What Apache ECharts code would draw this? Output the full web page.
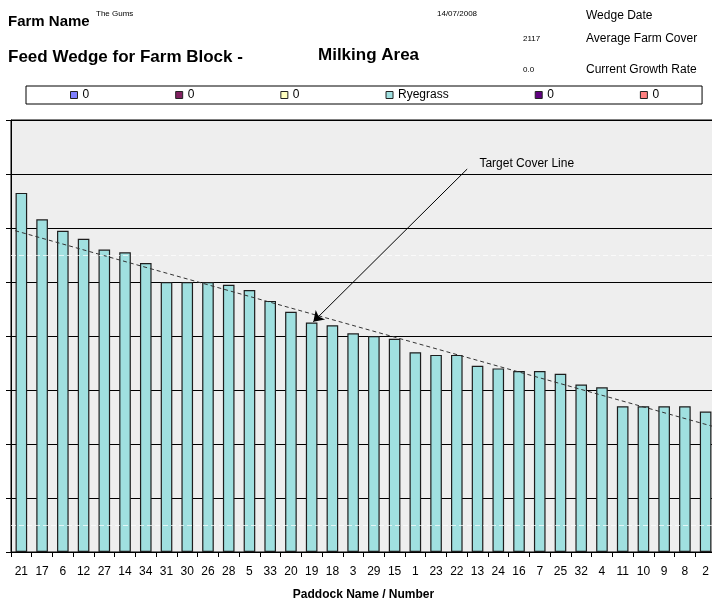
<!DOCTYPE html>
<html>
<head>
<meta charset="utf-8">
<script src="https://cdn.jsdelivr.net/npm/echarts@6/dist/echarts.min.js"></script>
<style>
html,body{margin:0;padding:0;background:#fff;}
#chart{width:712px;height:598px;}
</style>
</head>
<body>
<div id="chart"></div>
<script>
// ---- data ----
const paddocks = ['21','17','6','12','27','14','34','31','30','26','28','5','33','20','19','18','3','29','15','1','23','22','13','24','16','7','25','32','4','11','10','9','8','2'];
const ryegrass = [3325,3080,2975,2900,2800,2775,2675,2500,2500,2500,2475,2425,2325,2225,2125,2100,2025,2000,1975,1850,1825,1825,1725,1700,1675,1675,1650,1550,1525,1350,1350,1350,1350,1300];
const targetLine = [[0.2, 2975], [34, 1155]];
const whiteRefLines = [2750, 250];
const legendKeys = ['s1','s2','s3','ryegrass','s5','s6'];
const legendLabels = ['0','0','0','Ryegrass','0','0'];
const legendColors = ['#8080FF','#802060','#FFFFC0','#A0E0E0','#600080','#FF8080'];
const yMin = 0, yMax = 4000, yStep = 500;
const arrowFrom = [22.0, 3546], arrowTo = [14.58, 2132];
const noteAnchor = [22.59, 3593];

const chart = echarts.init(document.getElementById('chart'), null, {renderer:'canvas'});

const seriesList = legendKeys.map((k, i) => ({
  name: k,
  type: 'bar',
  stack: 'all',
  xAxisIndex: 0,
  yAxisIndex: 0,
  barCategoryGap: '44%',
  data: k === 'ryegrass' ? ryegrass : [],
  itemStyle: {color: legendColors[i], borderColor: '#1e1e1e', borderWidth: 1.2},
  silent: true,
  markLine: k === 'ryegrass' ? {
    silent: true, symbol: ['none','none'], label: {show:false},
    lineStyle: {color:'#ffffff', type:[5,3], width:1, opacity:0.7},
    data: whiteRefLines.map(v => ({yAxis: v}))
  } : undefined
}));

seriesList.push({
  name: 'target',
  type: 'line',
  xAxisIndex: 1,
  yAxisIndex: 0,
  data: targetLine,
  symbol: 'none',
  silent: true,
  z: 3,
  lineStyle: {color:'#333', width:1, type:[4,3]},
  markLine: {
    silent: true,
    symbol: ['none','arrow'],
    symbolSize: 10,
    label: {show:false},
    lineStyle: {color:'#000', width:1, type:'solid'},
    itemStyle: {color:'#000'},
    data: [[{coord: arrowFrom}, {coord: arrowTo}]]
  },
  markPoint: {
    silent: true,
    symbol: 'circle',
    symbolSize: 0,
    label: {show:true, position:'right', distance:0, formatter:'Target Cover Line', color:'#000', fontSize:12, fontFamily:'Arial, Liberation Sans'},
    data: [{coord: noteAnchor}]
  }
});

const txt = (text, x, y, font, align) => ({
  type:'text', x, y, silent:true,
  style:{text, x:0, y:0, font, fill:'#000', verticalAlign:'middle', align: align || 'left'}
});

chart.setOption({
  animation: false,
  backgroundColor: '#ffffff',
  textStyle: {fontFamily: 'Arial, "Liberation Sans", sans-serif'},
  grid: {left: 11, right: -4, top: 120, bottom: 46, show: true, backgroundColor: '#EEEEEE', borderColor: '#000', borderWidth: 1, containLabel: false, outerBoundsMode: 'none'},
  legend: {
    data: legendKeys,
    formatter: n => legendLabels[legendKeys.indexOf(n)],
    left: 26, top: 86,
    padding: [3, 43, 3, 44],
    itemGap: 86,
    itemWidth: 7, itemHeight: 7,
    icon: 'rect',
    itemStyle: {borderColor:'#222', borderWidth:1},
    backgroundColor: '#ffffff',
    borderColor: '#000', borderWidth: 1,
    textStyle: {fontSize: 12, color:'#000', fontFamily:'Arial, "Liberation Sans", sans-serif'},
    selectedMode: false
  },
  xAxis: [{
    type: 'category',
    data: paddocks,
    boundaryGap: true,
    axisLine: {show:true, lineStyle:{color:'#000'}},
    axisTick: {show:true, interval:0, length:5, lineStyle:{color:'#000'}},
    axisLabel: {interval:0, fontSize:12, color:'#000', margin:14},
    splitLine: {show:false},
    name: 'Paddock Name / Number',
    nameLocation: 'middle',
    nameGap: 37,
    nameTextStyle: {fontSize:12, fontWeight:'bold', color:'#000'}
  },{
    type: 'value', min: 0, max: 34, show: false
  }],
  yAxis: [{
    type: 'value', min: yMin, max: yMax, interval: yStep,
    axisLine: {show:true, lineStyle:{color:'#000'}},
    axisTick: {show:true, length:5, lineStyle:{color:'#000'}},
    axisLabel: {show:false},
    splitLine: {show:true, lineStyle:{color:'#000', width:1}}
  }],
  series: seriesList,
  graphic: [
    txt('Farm Name', 8, 22, 'bold 15px Arial, "Liberation Sans"'),
    txt('The Gums', 96, 14, '8px Arial, "Liberation Sans"'),
    txt('14/07/2008', 437, 14, '8px Arial, "Liberation Sans"'),
    txt('Wedge Date', 586, 16, '12px Arial, "Liberation Sans"'),
    txt('2117', 523, 39, '8px Arial, "Liberation Sans"'),
    txt('Average Farm Cover', 586, 39, '12px Arial, "Liberation Sans"'),
    txt('Feed Wedge for Farm Block -', 8, 57, 'bold 17px Arial, "Liberation Sans"'),
    txt('Milking Area', 318, 55, 'bold 17px Arial, "Liberation Sans"'),
    txt('0.0', 523, 70, '8px Arial, "Liberation Sans"'),
    txt('Current Growth Rate', 586, 70, '12px Arial, "Liberation Sans"')
  ]
});
</script>
</body>
</html>
